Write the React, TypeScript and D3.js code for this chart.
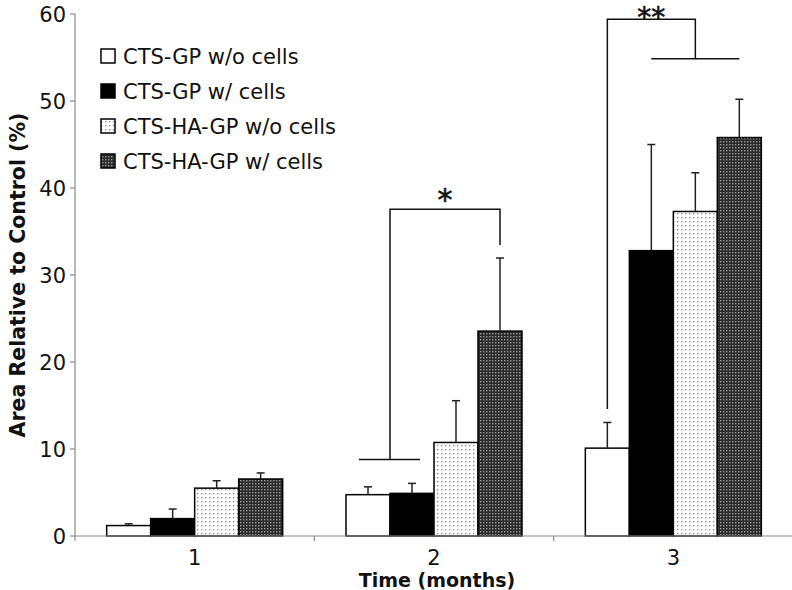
import React from "react";
import * as d3 from "d3";

const categories = ["1", "2", "3"];
const seriesNames = [
  "CTS-GP w/o cells",
  "CTS-GP w/ cells",
  "CTS-HA-GP w/o cells",
  "CTS-HA-GP w/ cells",
];
const ctsGpNoCells = [1.2, 4.75, 10.1];
const ctsGpCells = [2.0, 4.9, 32.8];
const ctsHaGpNoCells = [5.5, 10.75, 37.3];
const ctsHaGpCells = [6.55, 23.55, 45.8];
const errGpNoCells = [0.2, 0.9, 2.95];
const errGpCells = [1.1, 1.15, 12.2];
const errHaGpNoCells = [0.85, 4.8, 4.45];
const errHaGpCells = [0.7, 8.4, 4.4];
const yTicks = [0, 10, 20, 30, 40, 50, 60];

const values = [ctsGpNoCells, ctsGpCells, ctsHaGpNoCells, ctsHaGpCells];
const errors = [errGpNoCells, errGpCells, errHaGpNoCells, errHaGpCells];
const fills = ["#ffffff", "#000000", "url(#dots)", "url(#checks)"];

const W = 792;
const H = 590;
const FONT = "'DejaVu Sans', Verdana, sans-serif";

export default function App() {
  const x0 = d3.scaleBand<string>().domain(categories).range([75, 793]).paddingInner(0).paddingOuter(0);
  const x1 = d3
    .scaleBand<number>()
    .domain([0, 1, 2, 3])
    .range([0, x0.bandwidth()])
    .paddingInner(0)
    .paddingOuter(0.72);
  const y = d3.scaleLinear().domain([0, 60]).range([536, 14]);

  const barX = (c: number, s: number) => (x0(categories[c]) as number) + (x1(s) as number);
  const barC = (c: number, s: number) => barX(c, s) + x1.bandwidth() / 2;
  const bw = x1.bandwidth();

  // bracket annotations (in data units)
  const b2 = {
    lowY: y(8.8),
    topY: y(37.55),
    rightEndY: y(33.45),
    left: barX(1, 1),
    right: barC(1, 3),
    lowL: barC(1, 0) - 9,
    lowR: barC(1, 1) + 8,
  };
  const b3 = {
    left: barC(2, 0),
    leftBottom: y(14.6),
    topY: y(59.4),
    right: barC(2, 2),
    lowY: y(54.86),
    lowL: barC(2, 1),
    lowR: barC(2, 3),
  };

  const xBoundaries = [75, ...categories.slice(1).map((c) => x0(c) as number)];

  return (
    <svg
      width={W}
      height={H}
      style={{ position: "absolute", left: 0, top: 0, background: "#fff" }}
      fontFamily={FONT}
    >
      <defs>
        <pattern id="dots" width={4} height={4} patternUnits="userSpaceOnUse">
          <rect width={4} height={4} fill="#fff" />
          <rect x={1} y={1} width={1.3} height={1.3} fill="#8a8a8a" />
        </pattern>
        <pattern id="checks" width={3} height={3} patternUnits="userSpaceOnUse">
          <rect width={3} height={3} fill="#2a2a2a" />
          <rect x={0} y={0} width={1.4} height={1.4} fill="#9a9a9a" />
        </pattern>
      </defs>

      {/* Y axis */}
      <line x1={75} x2={75} y1={y(60)} y2={y(0)} stroke="#8a8a8a" strokeWidth={1.2} />
      {yTicks.map((t) => (
        <g key={t}>
          <line x1={70} x2={75} y1={y(t)} y2={y(t)} stroke="#8a8a8a" strokeWidth={1.2} />
          <text x={66} y={y(t)} dy="0.36em" textAnchor="end" fontSize={21} fill="#111">
            {t}
          </text>
        </g>
      ))}

      {/* bars */}
      {values.map((vals, s) =>
        vals.map((v, c) => (
          <rect
            key={`b${s}-${c}`}
            x={barX(c, s)}
            y={y(v)}
            width={bw}
            height={y(0) - y(v)}
            fill={fills[s]}
            stroke="#000"
            strokeWidth={1.5}
          />
        ))
      )}

      {/* error bars */}
      {values.map((vals, s) =>
        vals.map((v, c) => {
          const cx = barC(c, s);
          const top = y(v + errors[s][c]);
          return (
            <g key={`e${s}-${c}`} stroke="#222" strokeWidth={1.5}>
              <line x1={cx} x2={cx} y1={y(v)} y2={top} />
              <line x1={cx - 4} x2={cx + 4} y1={top} y2={top} />
            </g>
          );
        })
      )}

      {/* X axis */}
      <line x1={75} x2={792} y1={y(0)} y2={y(0)} stroke="#8a8a8a" strokeWidth={1.2} />
      {xBoundaries.map((bx, i) => (
        <line key={i} x1={bx} x2={bx} y1={y(0)} y2={y(0) + 5} stroke="#8a8a8a" strokeWidth={1.2} />
      ))}
      {categories.map((c) => (
        <text
          key={c}
          x={(x0(c) as number) + x0.bandwidth() / 2}
          y={557}
          dy="0.36em"
          textAnchor="middle"
          fontSize={21}
          fill="#111"
        >
          {c}
        </text>
      ))}
      <text x={437} y={580} dy="0.36em" textAnchor="middle" fontSize={19} fontWeight="bold" fill="#111">
        Time (months)
      </text>
      <text
        transform={`translate(18,${275}) rotate(-90)`}
        textAnchor="middle"
        dy="0.36em"
        fontSize={20.5}
        fontWeight="bold"
        fill="#111"
      >
        Area Relative to Control (%)
      </text>

      {/* brackets */}
      <g stroke="#111" strokeWidth={1.5} fill="none">
        <line x1={b2.lowL} x2={b2.lowR} y1={b2.lowY} y2={b2.lowY} />
        <polyline points={`${b2.left},${b2.lowY} ${b2.left},${b2.topY} ${b2.right},${b2.topY} ${b2.right},${b2.rightEndY}`} />
        <polyline points={`${b3.left},${b3.leftBottom} ${b3.left},${b3.topY} ${b3.right},${b3.topY} ${b3.right},${b3.lowY}`} />
        <line x1={b3.lowL} x2={b3.lowR} y1={b3.lowY} y2={b3.lowY} />
      </g>
      <text x={(b2.left + b2.right) / 2} y={b2.topY + 1} textAnchor="middle" fontSize={30} fill="#111" stroke="#111" strokeWidth={0.6}>
        *
      </text>
      <text x={(b3.left + b3.right) / 2} y={b3.topY + 8} textAnchor="middle" fontSize={28} fill="#111" stroke="#111" strokeWidth={0.6}>
        **
      </text>

      {/* legend */}
      {seriesNames.map((name, i) => {
        const ly = 56 + i * 35;
        return (
          <g key={name}>
            <rect x={101} y={ly - 7} width={14} height={14} fill={fills[i]} stroke="#000" strokeWidth={1.5} />
            <text x={123} y={ly} dy="0.36em" fontSize={21} fill="#111">
              {name}
            </text>
          </g>
        );
      })}
    </svg>
  );
}
